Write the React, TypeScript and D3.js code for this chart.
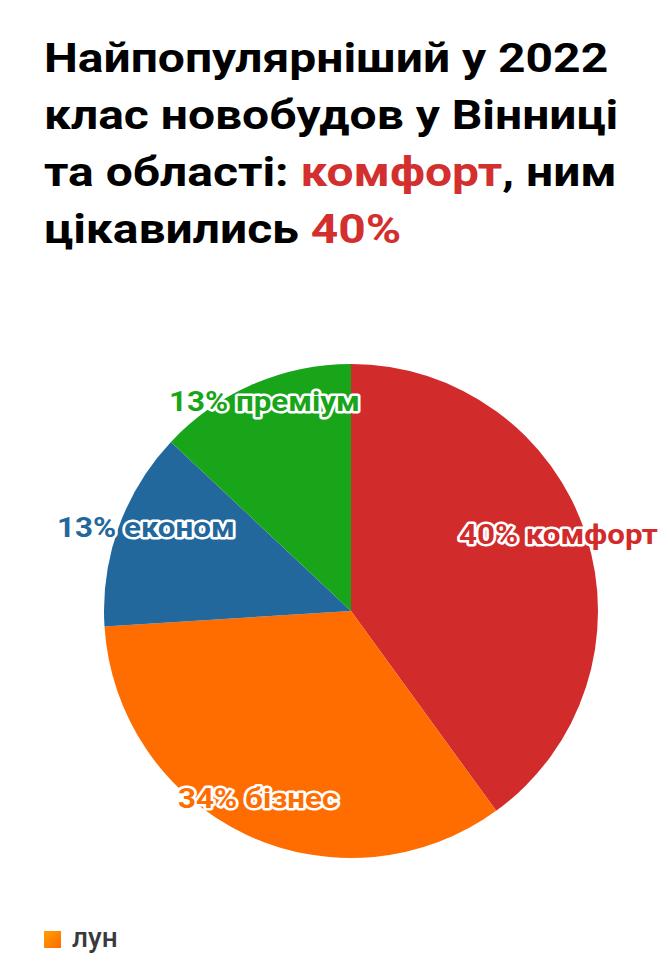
import React from "react";
import * as d3 from "d3";

const categories = ["комфорт", "бізнес", "економ", "преміум"];
const values = [40, 34, 13, 13];
const colors = ["#d22b2b", "#ff6d00", "#23689d", "#19a519"];

const titleLines: { text: string; red?: boolean }[][] = [
  [{ text: "Найпопулярніший у 2022" }],
  [{ text: "клас новобудов у Вінниці" }],
  [{ text: "та області: " }, { text: "комфорт", red: true }, { text: ", ним" }],
  [{ text: "цікавились " }, { text: "40%", red: true }],
];

export default function App() {
  const W = 668;
  const H = 974;
  const cx = 351;
  const cy = 611;
  const R = 247;
  const labelR = 218;
  const pie = d3.pie<number>().sort(null).value((d) => d)(values);
  const arc = d3.arc<d3.PieArcDatum<number>>().innerRadius(0).outerRadius(R);
  const font = "Roboto, 'Noto Sans', sans-serif";
  return (
    <svg width={W} height={H} style={{ position: "absolute", left: 0, top: 0 }}>
      <defs>
        <linearGradient id="logo" x1="0" y1="0" x2="1" y2="1">
          <stop offset="0" stopColor="#ffa000" />
          <stop offset="1" stopColor="#ff6a00" />
        </linearGradient>
      </defs>
      <rect width={W} height={H} fill="#fff" />
      {titleLines.map((line, i) => (
        <text key={i} transform={`translate(44,${72 + i * 57}) scale(1.17,1)`} fontFamily={font} fontWeight={700} fontSize={41} fill="#000">
          {line.map((s, j) => (
            <tspan key={j} fill={s.red ? "#d32f2f" : "#000"}>{s.text}</tspan>
          ))}
        </text>
      ))}
      <g transform={`translate(${cx},${cy})`}>
        {pie.map((p, i) => (
          <path key={i} d={arc(p) || ""} fill={colors[i]} />
        ))}
        {pie.map((p, i) => {
          const a = (p.startAngle + p.endAngle) / 2;
          const x = labelR * Math.sin(a);
          const y = -labelR * Math.cos(a);
          const label = `${values[i]}% ${categories[i]}`;
          return (
            <g key={"l" + i} transform={`translate(${x},${y}) scale(1.12,1)`}>
              <text textAnchor="middle" fontFamily={font} fontWeight={700} fontSize={28}
                fill="none" stroke="#fff" strokeWidth={5} strokeLinejoin="round">{label}</text>
              <text textAnchor="middle" fontFamily={font} fontWeight={700} fontSize={28}
                fill={colors[i]}>{label}</text>
            </g>
          );
        })}
      </g>
      <rect x={44} y={931} width={17} height={17} fill="url(#logo)" />
      <text x={72} y={947} fontFamily={font} fontSize={28} fontWeight={500} fill="#3a3a3a">лун</text>
    </svg>
  );
}
